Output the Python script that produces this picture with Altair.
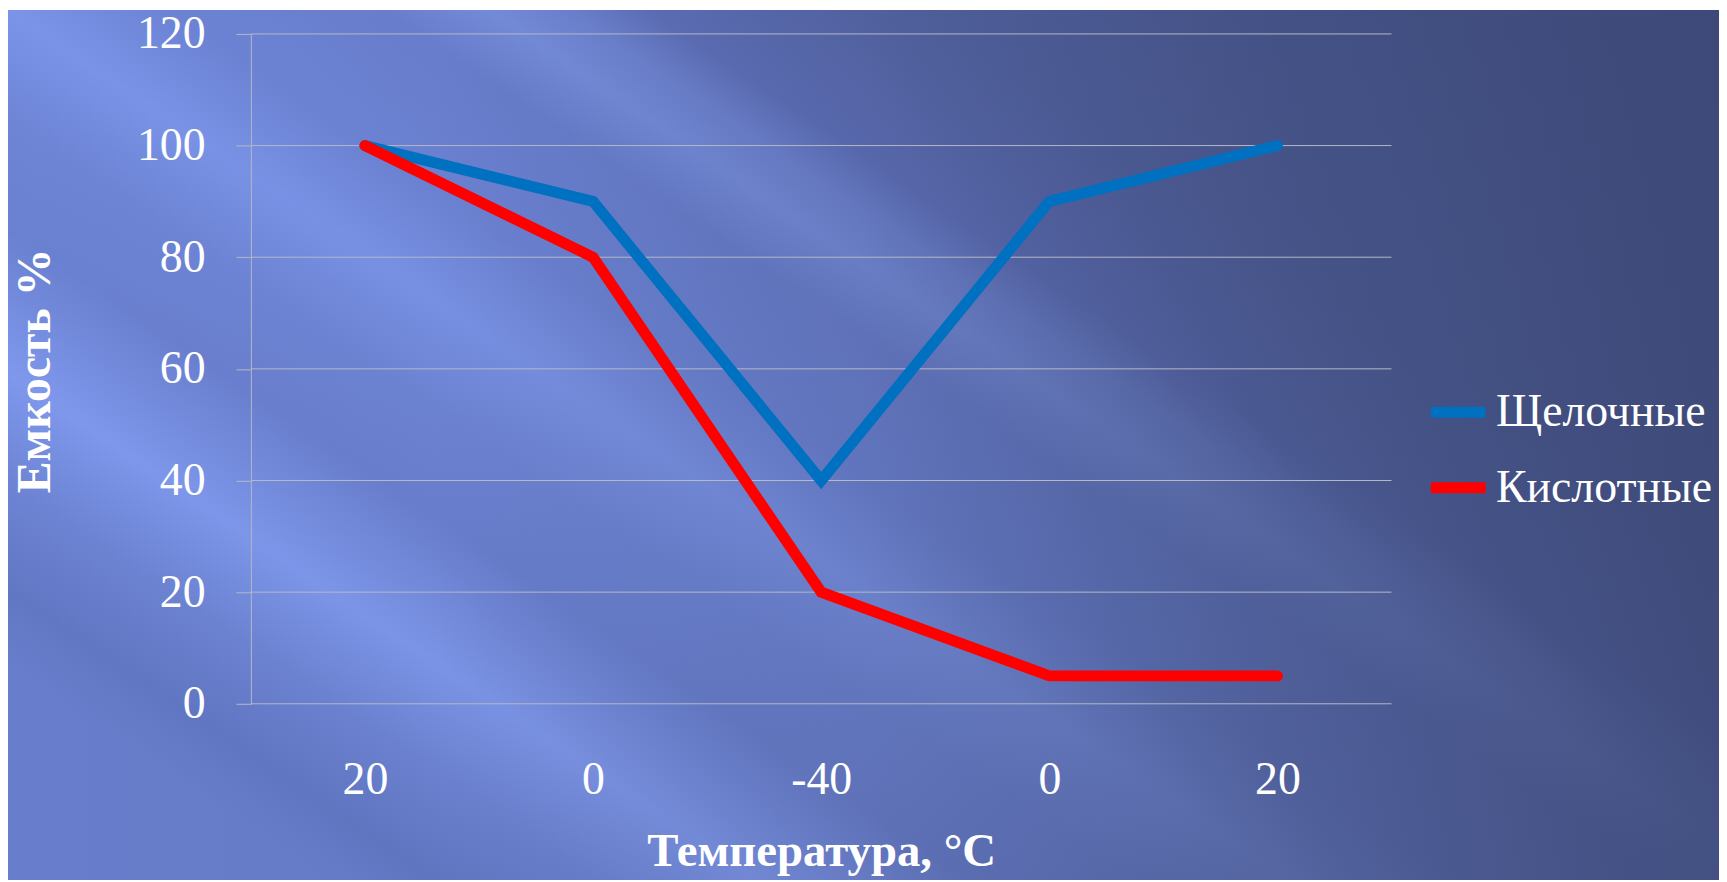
import json
import altair as alt
import pandas as pd

# ---- data ----
tick_labels = ["20", "0", "-40", "0", "20"]
series_names = ["Щелочные", "Кислотные"]
alkaline = [100, 90, 40, 90, 100]
acid = [100, 80, 20, 5, 5]
y_ticks = [0, 20, 40, 60, 80, 100, 120]
series_colors = ["#0070C0", "#FF0000"]

rows = []
for name, vals in zip(series_names, [alkaline, acid]):
    for i, v in enumerate(vals):
        rows.append({"i": i, "v": v, "s": name})
df = pd.DataFrame(rows)

W, H = 1146, 673
FONT = "Liberation Serif"
GRID = "#b4b8c8"

label_expr = json.dumps(tick_labels) + "[datum.value]"


def grad(x1, y1, x2, y2, stops):
    return alt.LinearGradient(
        gradient="linear", x1=x1, y1=y1, x2=x2, y2=y2,
        stops=[alt.GradientStop(offset=o, color=c) for o, c in stops],
    )


# diagonal streaks (running from upper-left to lower-right)
streak_grad = grad(1, 0, 0, 0.75, [
    (0.00, "#4a5a98"),
    (0.30, "#5668aa"),
    (0.40, "#6072be"),
    (0.43, "#7086d6"),
    (0.46, "#7890e0"),
    (0.50, "#6a80d0"),
    (0.58, "#6d84d6"),
    (0.64, "#7b94e8"),
    (0.70, "#6e85d6"),
    (0.76, "#6a80d0"),
    (0.84, "#7f98ec"),
    (0.90, "#6d84d4"),
    (0.96, "#6277c4"),
    (1.00, "#687ecc"),
])
# darkening towards the right
dark_grad = grad(0, 0, 1, 0, [
    (0.00, "rgba(59,70,114,0)"),
    (0.25, "rgba(59,70,114,0.05)"),
    (0.50, "rgba(59,70,114,0.25)"),
    (0.75, "rgba(59,70,114,0.6)"),
    (1.00, "rgba(59,70,114,0.85)"),
])

one = pd.DataFrame({"k": [0]})
rect_enc = dict(x=alt.value(-244), x2=alt.value(1475), y=alt.value(-24), y2=alt.value(850))
bg = alt.Chart(one).mark_rect(fill=streak_grad).encode(**rect_enc)
shade = alt.Chart(one).mark_rect(fill=dark_grad).encode(**rect_enc)

grid = alt.Chart(pd.DataFrame({"v": y_ticks})).mark_rule(
    color=GRID, strokeWidth=1
).encode(y=alt.Y("v:Q"))

x_enc = alt.X(
    "i:O",
    scale=alt.Scale(type="point", padding=0.5),
    axis=alt.Axis(
        title="Температура, °C",
        labelExpr=label_expr,
        labelAngle=0,
        labelFont=FONT, labelFontSize=46, labelColor="white",
        labelBaseline="middle", labelPadding=76,
        domain=False, ticks=False, tickSize=0, grid=False,
        titleFont=FONT, titleFontSize=47, titleFontWeight="bold", titleColor="white",
        titleBaseline="middle", titleY=148, zindex=1,
    ),
)
y_enc = alt.Y(
    "v:Q",
    scale=alt.Scale(domain=[0, 120]),
    axis=alt.Axis(
        title="Емкость %",
        values=y_ticks,
        labelFont=FONT, labelFontSize=46, labelColor="white",
        labelPadding=31, tickSize=15, tickColor=GRID, domainColor=GRID,
        grid=False,
        titleFont=FONT, titleFontSize=48, titleFontWeight="bold", titleColor="white",
        titleAngle=270, titleBaseline="middle", titleAlign="center",
        titleX=-216, titleY=338, zindex=1,
    ),
)
legend = alt.Legend(
    title=None, orient="none", legendX=1180, legendY=347,
    labelFont=FONT, labelFontSize=46, labelColor="white", labelLimit=400,
    symbolType="stroke", symbolSize=3025, symbolStrokeWidth=11,
    labelOffset=5, rowPadding=20, padding=0,
)
c_enc = alt.Color(
    "s:N", scale=alt.Scale(domain=series_names, range=series_colors), legend=legend
)

lines = [
    alt.Chart(df).transform_filter(alt.datum.s == name).mark_line(
        strokeWidth=11, strokeCap="round", strokeJoin="miter"
    ).encode(x=x_enc, y=y_enc, color=c_enc)
    for name in series_names
]

chart = alt.layer(bg, shade, grid, *lines).properties(
    width=W, height=H, padding=0
).configure_view(strokeWidth=0)

chart.save("out.html", embed_options={"renderer": "svg", "actions": False})
